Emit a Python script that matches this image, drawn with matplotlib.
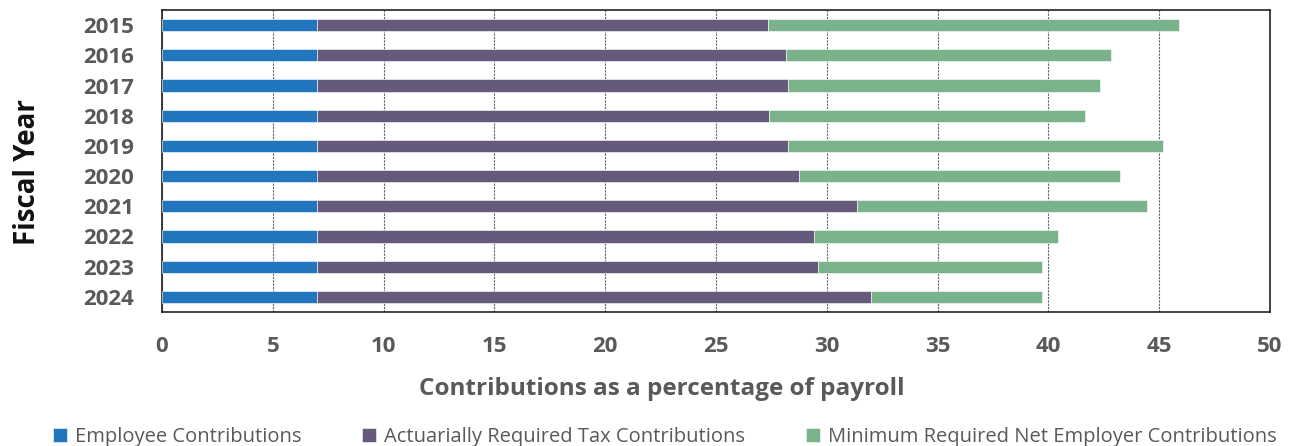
import matplotlib
matplotlib.use("Agg")
import matplotlib.pyplot as plt
import numpy as np

years = ["2015", "2016", "2017", "2018", "2019", "2020", "2021", "2022", "2023", "2024"]
employee = [7.0, 7.0, 7.0, 7.0, 7.0, 7.0, 7.0, 7.0, 7.0, 7.0]
tax = [20.36, 21.14, 21.23, 20.39, 21.27, 21.75, 24.36, 22.43, 22.61, 25.0]
net_employer = [18.52, 14.68, 14.11, 14.25, 16.88, 14.46, 13.07, 11.0, 10.09, 7.73]
series_names = ["Employee Contributions", "Actuarially Required Tax Contributions",
                "Minimum Required Net Employer Contributions"]
x_ticks = [0, 5, 10, 15, 20, 25, 30, 35, 40, 45, 50]

colors = ["#2276BE", "#665A7C", "#7AB28B"]
gray = "#595959"

plt.rcParams['font.family'] = ['Open Sans', 'DejaVu Sans']

fig = plt.figure(figsize=(12.96, 4.46), dpi=100)
ax = fig.add_axes([162/1296, 1-312/446, (1270-162)/1296, 302/446])

y = np.arange(len(years))
emp = np.array(employee)
tx = np.array(tax)
ne = np.array(net_employer)
h = 0.4
b1 = ax.barh(y, emp, height=h, color=colors[0], edgecolor="white", linewidth=0.4, label=series_names[0], zorder=3)
b2 = ax.barh(y, tx, left=emp, height=h, color=colors[1], edgecolor="white", linewidth=0.4, label=series_names[1], zorder=3)
b3 = ax.barh(y, ne, left=emp+tx, height=h, color=colors[2], edgecolor="white", linewidth=0.4, label=series_names[2], zorder=3)

ax.set_xlim(0, 50)
ax.set_ylim(len(years)-0.5, -0.5)
ax.set_xticks(x_ticks)
ax.set_xticklabels([str(t) for t in x_ticks])
ax.set_yticks(y)
ax.set_yticklabels(years)
ax.xaxis.grid(True, linestyle=(0, (2, 1)), color="#666666", linewidth=0.8, zorder=0)
ax.tick_params(axis='x', length=0, pad=17, labelsize=16, labelcolor=gray)
ax.tick_params(axis='y', length=0, pad=20, labelsize=16, labelcolor=gray)
for lab in ax.get_xticklabels() + ax.get_yticklabels():
    lab.set_fontweight('bold')
for s in ax.spines.values():
    s.set_color("#222222")
    s.set_linewidth(1.2)

ax.set_xlabel("Contributions as a percentage of payroll", fontsize=17.5, fontweight='bold', color=gray, labelpad=12)
ax.xaxis.set_label_coords(0.451, -0.215)
ax.set_ylabel("Fiscal Year", fontsize=20, fontweight='bold', color="#111111")
ax.yaxis.set_label_coords(-0.108, 0.464)

leg = fig.legend(handles=[b1, b2, b3], labels=series_names, loc='lower center',
                 bbox_to_anchor=(0.513, -0.042), ncol=3, frameon=False, fontsize=14.5,
                 handlelength=0.7, handleheight=0.7, handletextpad=0.4, columnspacing=3.0)
for t in leg.get_texts():
    t.set_color(gray)

fig.savefig("out.png", dpi=100)
